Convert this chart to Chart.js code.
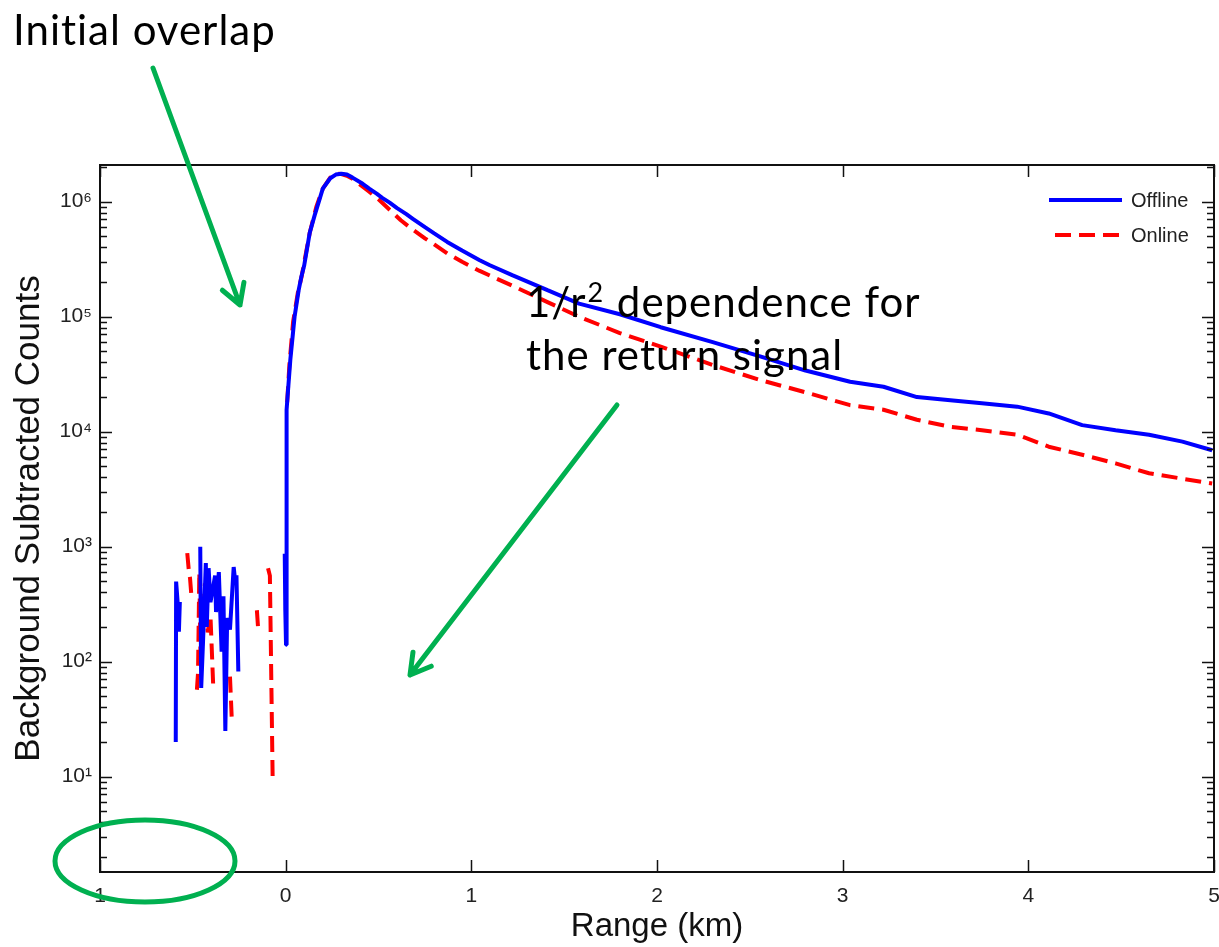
<!DOCTYPE html>
<html>
<head>
  <meta charset="UTF-8">
  <title>Background Subtracted Counts vs Range</title>
  <script src="https://cdn.jsdelivr.net/npm/chart.js"></script>
  <style>
    body { margin: 0; background: #fff; }
  </style>
</head>
<body>
  <canvas id="countsChart" width="1219" height="947"></canvas>

  <script>
    // values: range in km, counts. null = gap in the trace
    const offlineRange = [
      -0.592, -0.590, -0.580, -0.575, -0.570, -0.520,
      -0.460, -0.455, -0.445, -0.430, -0.425, -0.415, -0.405, -0.380, -0.375, -0.360,
      -0.345, -0.335, -0.325, -0.315, -0.300, -0.280, -0.270, -0.265, -0.255, -0.200,
      -0.005, -0.002, 0.002, 0.005, 0.010, 0.025, 0.048, 0.070, 0.085, 0.10, 0.13, 0.156, 0.20,
      0.24, 0.27, 0.30, 0.33, 0.36, 0.415, 0.45, 0.49, 0.52, 0.56, 0.60, 0.65, 0.685, 0.75, 0.80,
      0.87, 0.95, 1.045, 1.10, 1.22, 1.41, 1.58, 1.8, 2.02, 2.3, 2.56, 2.8, 3.04, 3.22, 3.40,
      3.58, 3.75, 3.94, 4.11, 4.29, 4.47, 4.65, 4.83, 4.99
    ];
    const offlineCounts = [
      20, 497, 300, 182, 330, null,
      1000, 59, 150, 720, 200, 650, 330, 560, 270, 600,
      122, 370, 25, 240, 190, 665, 470, 565, 82, null,
      870, 280, 140, 15500, 20000, 42000, 100000, 170000, 224000, 280000, 540000, 760000, 1300000,
      1600000, 1720000, 1750000, 1720000, 1620000, 1430000, 1300000, 1175000, 1080000, 980000, 880000, 780000, 710000, 600000, 530000,
      447000, 376000, 310000, 280000, 230000, 170000, 130000, 105000, 81000, 60000, 45000, 34000, 27200, 24600, 20000,
      18800, 17700, 16500, 14400, 11400, 10300, 9400, 8200, 6900
    ];
    const onlineRange = [
      -0.530, -0.522, -0.515, -0.508, -0.495,
      -0.478, -0.472, -0.465, -0.458, -0.445, -0.435, -0.420, -0.405, -0.390, -0.370,
      -0.300, -0.290, -0.250,
      -0.155, -0.148, -0.120,
      -0.095, -0.085, -0.070, -0.040,
      0.008, 0.020, 0.040, 0.065, 0.085, 0.13, 0.165, 0.20, 0.24, 0.27, 0.30, 0.33, 0.36, 0.415,
      0.45, 0.50, 0.56, 0.62, 0.685, 0.75, 0.80, 0.87, 0.95, 1.045,
      1.22, 1.41, 1.58, 1.8, 2.02, 2.3, 2.56, 2.8, 3.04, 3.22, 3.40, 3.58, 3.75, 3.94,
      4.11, 4.29, 4.47, 4.65, 4.83, 4.99
    ];
    const onlineCounts = [
      880, 630, 530, 380, null,
      57, 80, 600, 95, 250, 480, 180, 250, 60, null,
      74, 31, null,
      280, 190, null,
      650, 560, 9.4, null,
      18000, 38000, 90000, 160000, 220000, 540000, 900000, 1300000, 1620000, 1750000, 1740000, 1680000, 1580000, 1350000,
      1220000, 1050000, 850000, 690000, 570000, 480000, 425000, 355000, 300000, 250000,
      186000, 134000, 100000, 72000, 55000, 38000, 28000, 22000, 17000, 15500, 12700, 11000, 10300, 9400,
      7400, 6300, 5300, 4350, 3900, 3550
    ];
    const seriesNames = ['Offline', 'Online'];
    const xTickValues = [-1, 0, 1, 2, 3, 4, 5];
    const xTickLabels = ['1', '0', '1', '2', '3', '4', '5'];
    const yDecades = [0, 1, 2, 3, 4, 5, 6];

    const sup = '⁰¹²³⁴⁵⁶⁷⁸⁹';
    const green = '#00b050';

    function toPoints(xs, ys) {
      return xs.map((x, i) => ({ x: x, y: ys[i] }));
    }

    // inward ticks on all four sides + the box
    const framePlugin = {
      id: 'frame',
      afterDatasetsDraw(chart) {
        const ctx = chart.ctx;
        const { left, top, right, bottom } = chart.chartArea;
        const xs = chart.scales.x, ys = chart.scales.y;
        ctx.save();
        ctx.strokeStyle = '#111';
        ctx.lineWidth = 1.5;
        ctx.beginPath();
        xTickValues.forEach(v => {
          const px = Math.round(xs.getPixelForValue(v)) + 0.5;
          ctx.moveTo(px, bottom); ctx.lineTo(px, bottom - 12);
          ctx.moveTo(px, top); ctx.lineTo(px, top + 12);
        });
        yDecades.forEach(d => {
          for (let m = 1; m <= 9; m++) {
            const v = m * Math.pow(10, d);
            if (v < ys.min || v > ys.max) continue;
            const py = Math.round(ys.getPixelForValue(v)) + 0.5;
            const len = m === 1 ? 12 : 7;
            ctx.moveTo(left, py); ctx.lineTo(left + len, py);
            ctx.moveTo(right, py); ctx.lineTo(right - len, py);
          }
        });
        ctx.stroke();
        ctx.lineWidth = 2;
        ctx.strokeRect(left, top, right - left, bottom - top);
        ctx.restore();
      }
    };

    // legend in the upper right corner of the axes, like the original
    const legendPlugin = {
      id: 'cornerLegend',
      afterDatasetsDraw(chart) {
        const ctx = chart.ctx;
        const right = chart.chartArea.right;
        ctx.save();
        ctx.font = '20px "Liberation Sans", Arial, sans-serif';
        ctx.fillStyle = '#222';
        ctx.textBaseline = 'middle';
        chart.data.datasets.forEach((ds, i) => {
          const y = 200 + i * 35;
          ctx.strokeStyle = ds.borderColor;
          ctx.lineWidth = 4;
          ctx.setLineDash(ds.borderDash || []);
          ctx.beginPath();
          ctx.moveTo(right - 165 + (i ? 6 : 0), y);
          ctx.lineTo(right - 92, y);
          ctx.stroke();
          ctx.setLineDash([]);
          ctx.fillText(ds.label, right - 83, y + 1);
        });
        ctx.restore();
      }
    };

    function arrow(ctx, x0, y0, x1, y1) {
      const a = Math.atan2(y0 - y1, x0 - x1);
      const L = 23, w = Math.PI / 6;
      ctx.beginPath();
      ctx.moveTo(x0, y0); ctx.lineTo(x1, y1);
      ctx.moveTo(x1 + L * Math.cos(a + w), y1 + L * Math.sin(a + w));
      ctx.lineTo(x1, y1);
      ctx.lineTo(x1 + L * Math.cos(a - w), y1 + L * Math.sin(a - w));
      ctx.stroke();
    }

    // slide annotations: text, green arrows and the ellipse
    const notesPlugin = {
      id: 'notes',
      afterDraw(chart) {
        const ctx = chart.ctx;
        ctx.save();
        ctx.fillStyle = '#000';
        ctx.textBaseline = 'alphabetic';
        ctx.letterSpacing = '1px';
        const big = '42px Lato, "Open Sans", sans-serif';
        ctx.font = big;
        ctx.fillText('Initial overlap', 13, 45);

        ctx.fillText('1/r', 526, 317);
        const w = ctx.measureText('1/r').width;
        ctx.font = '27px Lato, "Open Sans", sans-serif';
        ctx.fillText('2', 526 + w + 1, 302);
        const w2 = ctx.measureText('2').width;
        ctx.font = big;
        ctx.fillText(' dependence for', 526 + w + w2 + 2, 317);
        ctx.fillText('the return signal', 526, 370);

        ctx.strokeStyle = green;
        ctx.lineWidth = 5;
        ctx.lineCap = 'round';
        ctx.lineJoin = 'round';
        arrow(ctx, 153, 68, 240, 305);
        arrow(ctx, 617, 405, 410, 675);
        ctx.beginPath();
        ctx.ellipse(145, 861, 90, 41, 0, 0, Math.PI * 2);
        ctx.stroke();
        ctx.restore();
      }
    };

    const ctx = document.getElementById('countsChart').getContext('2d');
    const countsChart = new Chart(ctx, {
      type: 'line',
      data: {
        datasets: [
          {
            label: seriesNames[0],
            data: toPoints(offlineRange, offlineCounts),
            borderColor: '#0000ff',
            borderWidth: 4,
            borderJoinStyle: 'bevel',
            pointRadius: 0,
            tension: 0
          },
          {
            label: seriesNames[1],
            data: toPoints(onlineRange, onlineCounts),
            borderColor: '#ff0000',
            borderWidth: 4,
            borderDash: [16, 8],
            borderJoinStyle: 'bevel',
            pointRadius: 0,
            tension: 0
          }
        ]
      },
      options: {
        responsive: false,
        animation: false,
        devicePixelRatio: 1,
        layout: { padding: { top: 165, right: 5, left: 0, bottom: 0 } },
        plugins: { legend: { display: false }, tooltip: { enabled: false } },
        scales: {
          x: {
            type: 'linear',
            min: -1,
            max: 5,
            afterFit: s => { s.height = 75; s.paddingLeft = 0; s.paddingRight = 0; },
            afterBuildTicks: s => { s.ticks = xTickValues.map(v => ({ value: v })); },
            grid: { display: false, drawTicks: false },
            border: { display: false },
            ticks: {
              padding: 12,
              color: '#222',
              font: { family: '"Liberation Sans", Arial, sans-serif', size: 21 },
              callback: (v, i) => xTickLabels[i]
            },
            title: {
              display: true,
              text: 'Range (km)',
              color: '#111',
              font: { family: '"Liberation Sans", Arial, sans-serif', size: 33 },
              padding: { top: 0, bottom: 0 }
            }
          },
          y: {
            type: 'logarithmic',
            min: Math.pow(10, 0.171),
            max: Math.pow(10, 6.319),
            afterFit: s => { s.width = 100; s.paddingTop = 0; s.paddingBottom = 0; },
            grid: { display: false, drawTicks: false },
            border: { display: false },
            ticks: {
              autoSkip: false,
              padding: 8,
              color: '#222',
              font: { family: '"Liberation Sans", Arial, sans-serif', size: 21 },
              callback: v => {
                const e = Math.log10(v);
                if (Math.abs(e - Math.round(e)) > 1e-6 || !yDecades.includes(Math.round(e)) || Math.round(e) === 0) return '';
                return '10' + sup[Math.round(e)];
              }
            },
            title: {
              display: true,
              text: 'Background Subtracted Counts',
              color: '#111',
              font: { family: '"Liberation Sans", Arial, sans-serif', size: 35 },
              padding: { top: 8, bottom: 0 }
            }
          }
        }
      },
      plugins: [framePlugin, legendPlugin, notesPlugin]
    });
  </script>
</body>
</html>
